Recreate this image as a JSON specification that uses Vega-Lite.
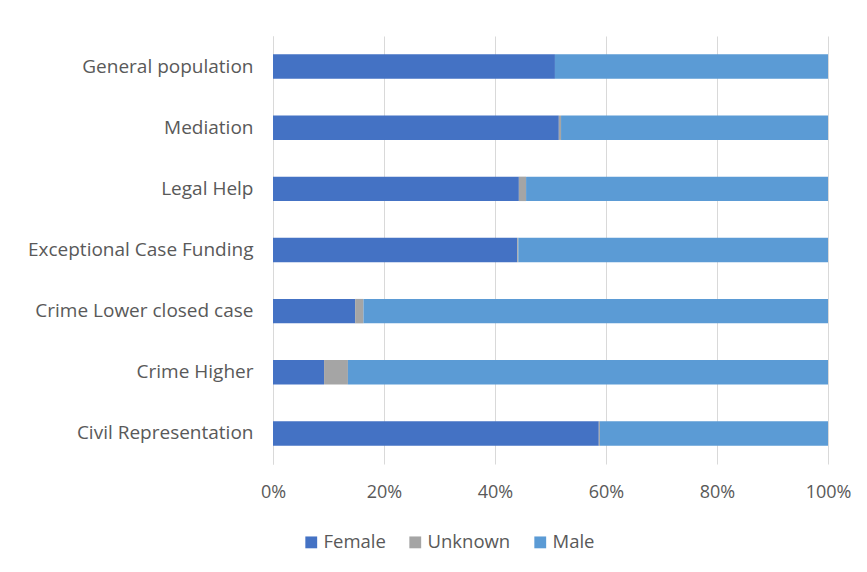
{
  "$schema": "https://vega.github.io/schema/vega-lite/v6.json",
  "width": 555,
  "height": 428,
  "autosize": {"type": "none"},
  "padding": {"left": 273, "top": 36, "right": 39, "bottom": 108},
  "background": "white",
  "config": {
    "view": {"stroke": null},
    "font": "Open Sans"
  },
  "data": {
    "values": [
      {"category": "General population", "gender": "Female", "rank": 1, "share": 50.8},
      {"category": "General population", "gender": "Unknown", "rank": 2, "share": 0},
      {"category": "General population", "gender": "Male", "rank": 3, "share": 49.2},
      {"category": "Mediation", "gender": "Female", "rank": 1, "share": 51.5},
      {"category": "Mediation", "gender": "Unknown", "rank": 2, "share": 0.4},
      {"category": "Mediation", "gender": "Male", "rank": 3, "share": 48.1},
      {"category": "Legal Help", "gender": "Female", "rank": 1, "share": 44.3},
      {"category": "Legal Help", "gender": "Unknown", "rank": 2, "share": 1.3},
      {"category": "Legal Help", "gender": "Male", "rank": 3, "share": 54.4},
      {"category": "Exceptional Case Funding", "gender": "Female", "rank": 1, "share": 44.0},
      {"category": "Exceptional Case Funding", "gender": "Unknown", "rank": 2, "share": 0.2},
      {"category": "Exceptional Case Funding", "gender": "Male", "rank": 3, "share": 55.8},
      {"category": "Crime Lower closed case", "gender": "Female", "rank": 1, "share": 14.8},
      {"category": "Crime Lower closed case", "gender": "Unknown", "rank": 2, "share": 1.5},
      {"category": "Crime Lower closed case", "gender": "Male", "rank": 3, "share": 83.7},
      {"category": "Crime Higher", "gender": "Female", "rank": 1, "share": 9.2},
      {"category": "Crime Higher", "gender": "Unknown", "rank": 2, "share": 4.3},
      {"category": "Crime Higher", "gender": "Male", "rank": 3, "share": 86.5},
      {"category": "Civil Representation", "gender": "Female", "rank": 1, "share": 58.7},
      {"category": "Civil Representation", "gender": "Unknown", "rank": 2, "share": 0.2},
      {"category": "Civil Representation", "gender": "Male", "rank": 3, "share": 41.1}
    ]
  },
  "mark": {"type": "bar"},
  "encoding": {
    "y": {
      "field": "category",
      "type": "nominal",
      "sort": ["General population", "Mediation", "Legal Help", "Exceptional Case Funding", "Crime Lower closed case", "Crime Higher", "Civil Representation"],
      "scale": {"paddingInner": 0.6, "paddingOuter": 0.3},
      "axis": {
        "title": null,
        "ticks": false,
        "domain": true,
        "domainColor": "#D9D9D9",
        "labelFontSize": 19,
        "labelColor": "#595959",
        "labelPadding": 20,
        "labelLimit": 300
      }
    },
    "x": {
      "field": "share",
      "type": "quantitative",
      "stack": "normalize",
      "scale": {"domain": [0, 1]},
      "axis": {
        "title": null,
        "format": ".0%",
        "values": [0, 0.2, 0.4, 0.6, 0.8, 1],
        "grid": true,
        "gridColor": "#D9D9D9",
        "domain": false,
        "ticks": false,
        "labelFlush": false,
        "labelFontSize": 18,
        "labelColor": "#595959",
        "labelPadding": 19
      }
    },
    "color": {
      "field": "gender",
      "type": "nominal",
      "scale": {"domain": ["Female", "Unknown", "Male"], "range": ["#4472C4", "#A5A5A5", "#5B9BD5"]},
      "legend": {
        "title": null,
        "orient": "none",
        "direction": "horizontal",
        "legendX": 29,
        "legendY": 497,
        "symbolType": "square",
        "symbolSize": 140,
        "symbolStrokeWidth": 0,
        "labelFontSize": 18.5,
        "labelColor": "#595959",
        "columnPadding": 20,
        "labelOffset": 3
      }
    },
    "order": {"field": "rank", "type": "quantitative"}
  }
}
